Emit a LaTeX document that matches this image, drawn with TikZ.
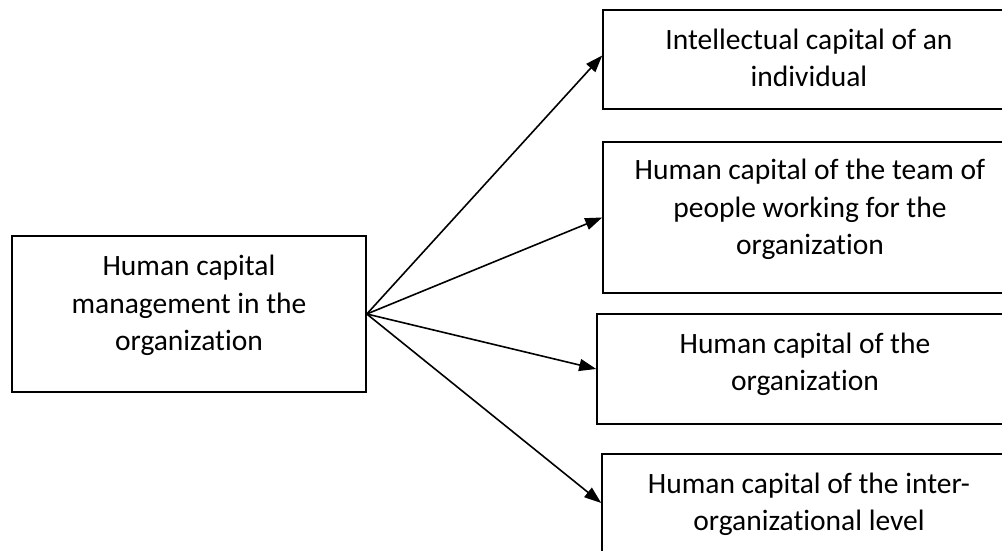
\documentclass[tikz,border=0pt]{standalone}
\usepackage{fontspec}
\setmainfont{Carlito}[Ligatures=NoCommon]
\usetikzlibrary{arrows.meta,positioning}

\begin{document}
\begin{tikzpicture}[x=1pt, y=-1pt, >={Triangle[length=17pt,width=12pt]},
    box/.style={draw, line width=1.6pt, inner sep=0pt},
    txt/.style={align=center, inner sep=0pt, font=\fontsize{29.5}{37.5}\selectfont},
    link/.style={->, line width=1.6pt}]
    \useasboundingbox (0,0) rectangle (1002,551);
    \clip (0,0) rectangle (1002,551);

    % Source
    \node[box, minimum width=354pt, minimum height=156pt] (mgmt) at (189,314) {};
    \node[txt] (mgmt-t) at (189,305.7) {Human capital\\management in the\\organization};
    \coordinate (hub) at (mgmt.east);

    % Targets
    \node[box, minimum width=412pt, minimum height=99pt] (indiv) at (809,59.5) {};
    \node[txt] (indiv-t) at (809,57.7) {Intellectual capital of an\\individual};

    \node[box, minimum width=412pt, minimum height=151pt] (team) at (809,217.5) {};
    \node[txt] (team-t) at (810,209.7) {Human capital of the team of\\people working for the\\organization};

    \node[box, minimum width=418pt, minimum height=110pt] (org) at (806,369) {};
    \node[txt] (org-t) at (805,364.2) {Human capital of the\\organization};

    \node[box, minimum width=413pt, minimum height=112pt] (inter) at (808.5,510) {};
    \node[txt] (inter-t) at (809,504.2) {Human capital of the inter-\\organizational level};

    % Arrows
    \draw[link] (hub) -- ([yshift=4pt]indiv.west);
    \draw[link] (hub) -- (team.west);
    \draw[link] (hub) -- (org.west);
    \draw[link] (hub) -- ([yshift=7pt]inter.west);
\end{tikzpicture}
\end{document}
